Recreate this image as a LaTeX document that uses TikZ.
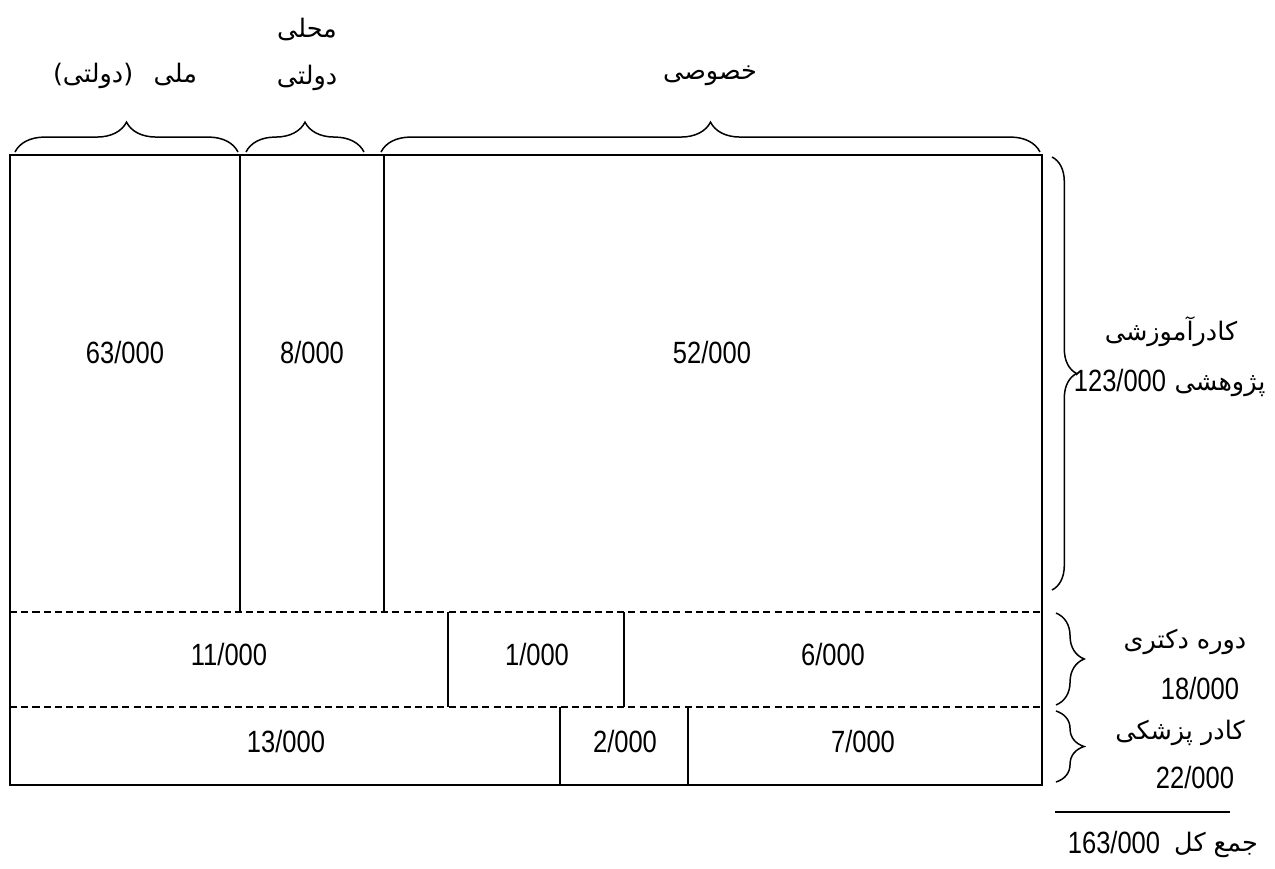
\documentclass[tikz,border=0pt]{standalone}
\usepackage{fontspec}
\setmainfont{Liberation Sans}[FakeStretch=0.83]
\newfontfamily\farsi[Script=Arabic]{DejaVu Sans}
\TeXXeTstate=1
\usetikzlibrary{decorations.pathreplacing}

\tikzset{
  num/.style={font=\fontsize{17.5}{20}\selectfont, inner sep=0pt},
  fa/.style={font=\farsi\fontsize{14.5}{17}\selectfont, inner sep=0pt},
  frame/.style={line width=1.2pt, draw=black},
  split/.style={line width=0.9pt, draw=black},
  dashsplit/.style={line width=1.2pt, draw=black, dash pattern=on 4pt off 2.4pt},
  curly/.style={line width=0.85pt, decorate, decoration={brace, amplitude=#1}},
  curly/.default=16pt,
  total/.style={line width=0.8pt}
}

\begin{document}
\begin{tikzpicture}[x=0.02cm, y=-0.02cm]
\useasboundingbox (0,0) rectangle (1275,869);

% Outer frame and row boundaries.
\coordinate (nw) at (10,155);
\coordinate (se) at (1042,785);
\draw[frame] (nw) rectangle (se);
\draw[dashsplit] (10,612) -- (1042,612);
\draw[dashsplit] (10,707) -- (1042,707);

% Column boundaries of each row.
\draw[split] (240,155) -- (240,612);
\draw[split] (384,155) -- (384,612);
\draw[split] (448,612) -- (448,707);
\draw[split] (624,612) -- (624,707);
\draw[split] (560,707) -- (560,785);
\draw[split] (688,707) -- (688,785);

% Cell values.
\node[num] (natA) at (125,353) {63/000};
\node[num] (locA) at (312,353) {8/000};
\node[num] (priA) at (712,353) {52/000};
\node[num] (natB) at (229,655) {11/000};
\node[num] (locB) at (537,655) {1/000};
\node[num] (priB) at (833,655) {6/000};
\node[num] (natC) at (286,742) {13/000};
\node[num] (locC) at (625,742) {2/000};
\node[num] (priC) at (863,742) {7/000};

% Column headings.
\draw[curly=17pt] (15,152) -- (238,152);
\draw[curly=17pt] (246,152) -- (364,152);
\draw[curly=17pt] (381,152) -- (1040,152);
\node[fa] (national) at (125,76) {\beginR ملی\hspace{7pt} (دولتی)\endR};
\node[fa] (localtop) at (307,30) {\beginR محلی\endR};
\node[fa] (localbot) at (307,78) {\beginR دولتی\endR};
\node[fa] (private) at (710,76) {\beginR خصوصی\endR};

% Row headings.
\draw[curly=14pt] (1052,157) -- (1052,590);
\draw[curly=16pt] (1056,613) -- (1056,705);
\draw[curly=16pt] (1056,711) -- (1056,782);
\node[fa] (faculty) at (1171,332) {\beginR کادرآموزشی\endR};
\node[num] (facultysum) at (1120,381) {123/000};
\node[fa] (research) at (1220,386) {\beginR پژوهشی\endR};
\node[fa] (doctoral) at (1185,642) {\beginR دوره دکتری\endR};
\node[num] (doctoralsum) at (1200,689) {18/000};
\node[fa] (medical) at (1180,733) {\beginR کادر پزشکی\endR};
\node[num] (medicalsum) at (1195,777) {22/000};

% Grand total.
\coordinate (ruleL) at (1055,812);
\coordinate (ruleR) at (1230,812);
\draw[total] (ruleL) -- (ruleR);
\node[num] (grand) at (1114,842) {163/000};
\node[fa] (grandlab) at (1216,845) {\beginR جمع کل\endR};

\end{tikzpicture}
\end{document}
